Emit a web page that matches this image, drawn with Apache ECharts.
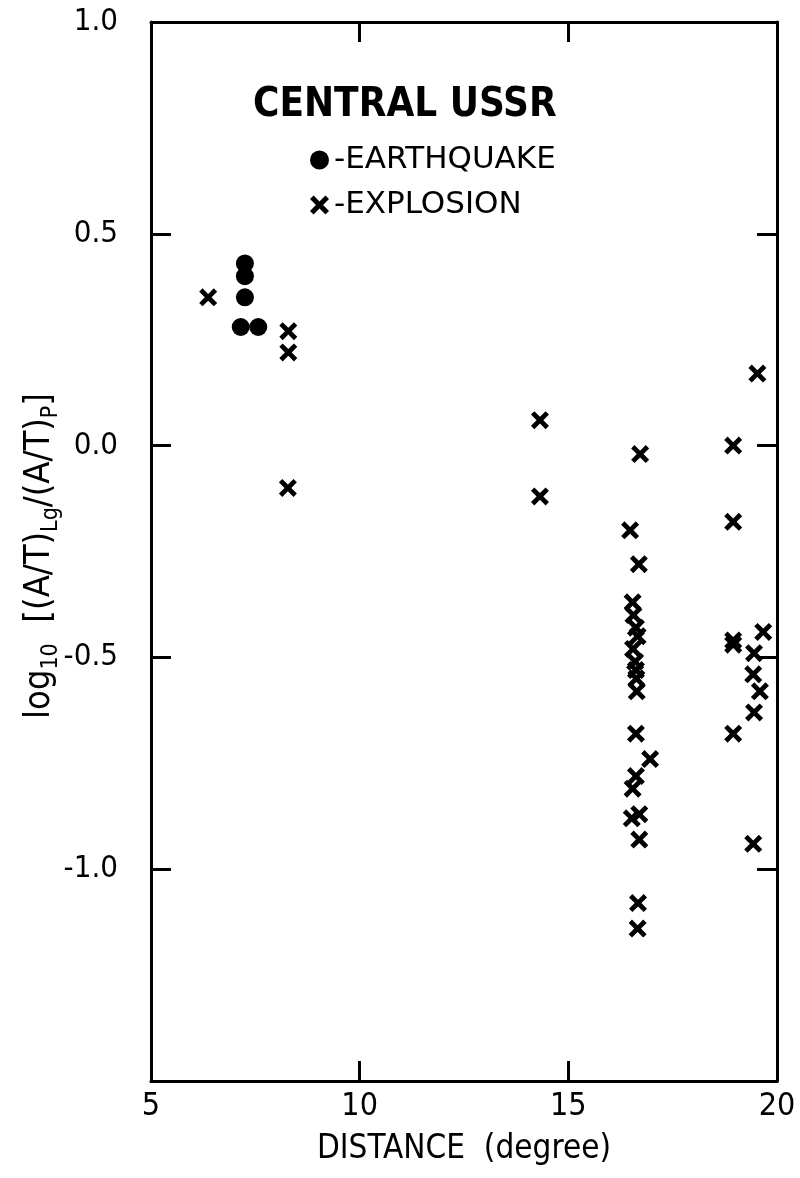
<!DOCTYPE html>
<html>
<head>
<meta charset="utf-8">
<script src="https://cdn.jsdelivr.net/npm/echarts@6/dist/echarts.min.js"></script>
<style>
  html, body { margin: 0; padding: 0; background: #fff; }
  #chart { width: 800px; height: 1178px; }
</style>
</head>
<body>
<div id="chart"></div>
<script>
// Lg/P amplitude-period ratios versus epicentral distance, Central USSR events
const quakeDist  = [7.25, 7.25, 7.25, 7.15, 7.57];
const quakeRatio = [0.43, 0.40, 0.35, 0.28, 0.28];

const explosionDist = [
  6.37, 8.29, 8.29, 8.28, 14.32, 14.32,
  16.72, 16.48, 16.69, 16.54, 16.56, 16.62, 16.66, 16.55, 16.60, 16.62, 16.63, 16.64,
  16.62, 16.96, 16.62, 16.54, 16.70, 16.52, 16.70, 16.67, 16.66,
  18.95, 19.53, 18.95, 19.67, 18.95, 18.95, 19.45, 19.43, 19.59, 19.45, 18.95, 19.43
];
const explosionRatio = [
  0.35, 0.27, 0.22, -0.10, 0.06, -0.12,
  -0.02, -0.20, -0.28, -0.37, -0.40, -0.43, -0.45, -0.48, -0.51, -0.53, -0.55, -0.58,
  -0.68, -0.74, -0.78, -0.81, -0.87, -0.88, -0.93, -1.08, -1.14,
  0.00, 0.17, -0.18, -0.44, -0.46, -0.47, -0.49, -0.54, -0.58, -0.63, -0.68, -0.94
];

const xTicks = [5, 10, 15, 20];
const yTickLabels = ['1.0', '0.5', '0.0', '-0.5', '-1.0'];

const FONT = "'DejaVu Sans Condensed', 'DejaVu Sans'";
const FONT_WIDE = "'DejaVu Sans'";
const INK = '#000';

// filled "x" glyph for explosion markers
const CROSS = 'path://M3,0L8,5L13,0L16,3L11,8L16,13L13,16L8,11L3,16L0,13L5,8L0,3Z';

const zip = (a, b) => a.map((v, i) => [v, b[i]]);

const axisLine = { show: true, onZero: false, lineStyle: { color: INK, width: 3 } };
const axisTick = { show: true, inside: true, length: 20, lineStyle: { color: INK, width: 3 } };

function yLabel(v) {
  const s = v.toFixed(1);
  return yTickLabels.indexOf(s) >= 0 ? s : '';
}

const chart = echarts.init(document.getElementById('chart'), null, { renderer: 'canvas' });

chart.setOption({
  backgroundColor: '#fff',
  animation: false,
  textStyle: { fontFamily: FONT, color: INK },
  title: {
    text: 'CENTRAL USSR',
    left: 248,
    top: 81,
    textStyle: { fontFamily: FONT, fontSize: 40, fontWeight: 'bold', color: INK }
  },
  legend: {
    orient: 'vertical',
    left: 305,
    top: 139,
    itemWidth: 19,
    itemHeight: 19,
    itemGap: 13,
    formatter: name => '-' + name,
    textStyle: { fontFamily: FONT_WIDE, fontSize: 31, color: INK, lineHeight: 32 },
    data: [
      { name: 'EARTHQUAKE', icon: 'circle' },
      { name: 'EXPLOSION', icon: CROSS }
    ]
  },
  grid: { left: 151, right: 23, top: 22, bottom: 97, containLabel: false, outerBoundsMode: 'none' },
  xAxis: [
    {
      type: 'value', position: 'bottom', min: 5, max: 20, interval: 5,
      axisLine, axisTick, splitLine: { show: false },
      axisLabel: {
        margin: 10, fontFamily: FONT, fontSize: 32, color: INK,
        formatter: v => (xTicks.indexOf(v) >= 0 ? String(v) : '')
      },
      name: 'DISTANCE  (degree)', nameLocation: 'middle', nameGap: 52,
      nameTextStyle: { fontFamily: FONT, fontSize: 33, color: INK }
    },
    {
      type: 'value', position: 'top', min: 5, max: 20, interval: 5,
      axisLine, axisTick, splitLine: { show: false }, axisLabel: { show: false }
    }
  ],
  yAxis: [
    {
      type: 'value', position: 'left', min: -1.5, max: 1.0, interval: 0.5,
      axisLine, axisTick, splitLine: { show: false },
      axisLabel: { margin: 33, fontFamily: FONT, fontSize: 31, color: INK, formatter: yLabel }
    },
    {
      type: 'value', position: 'right', min: -1.5, max: 1.0, interval: 0.5,
      axisLine, axisTick, splitLine: { show: false }, axisLabel: { show: false }
    }
  ],
  graphic: [
    {
      type: 'text',
      x: 40,
      y: 556,
      rotation: Math.PI / 2,
      style: {
        text: '{n|log}{s|10}{n|  [(A/T)}{s|Lg}{n|/(A/T)}{s|P}{n|]}',
        align: 'center',
        verticalAlign: 'middle',
        fill: INK,
        rich: {
          n: { fontFamily: FONT, fontSize: 36, lineHeight: 46, verticalAlign: 'middle', fill: INK },
          s: { fontFamily: FONT, fontSize: 23, lineHeight: 20, verticalAlign: 'bottom', fill: INK }
        }
      }
    }
  ],
  series: [
    {
      name: 'EARTHQUAKE',
      type: 'scatter',
      xAxisIndex: 0, yAxisIndex: 0,
      symbol: 'circle',
      symbolSize: 18,
      itemStyle: { color: INK, opacity: 1 },
      data: zip(quakeDist, quakeRatio)
    },
    {
      name: 'EXPLOSION',
      type: 'scatter',
      xAxisIndex: 0, yAxisIndex: 0,
      symbol: CROSS,
      symbolSize: 18,
      itemStyle: { color: INK, opacity: 1 },
      data: zip(explosionDist, explosionRatio)
    }
  ]
});
</script>
</body>
</html>
